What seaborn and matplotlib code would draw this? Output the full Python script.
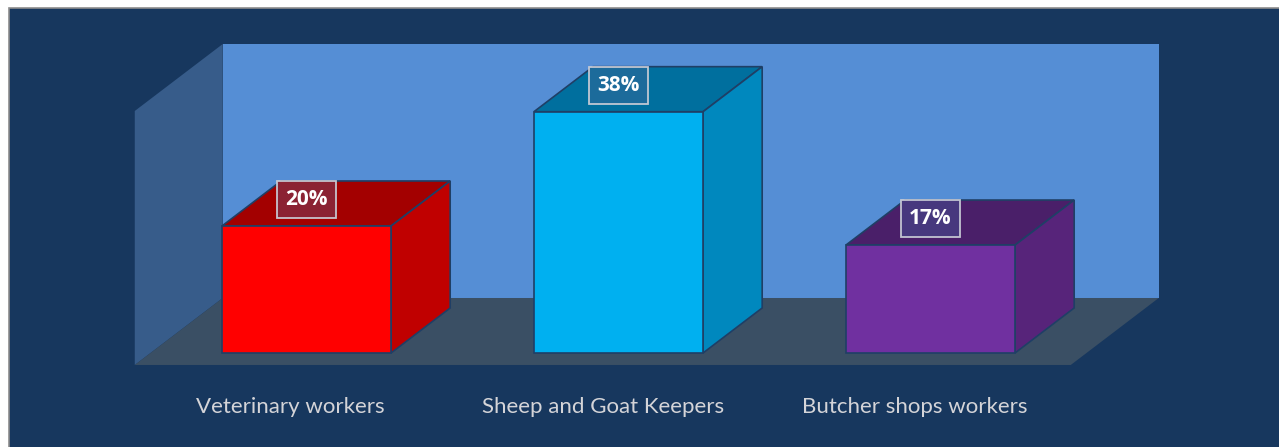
import matplotlib
matplotlib.use("Agg")
import matplotlib.pyplot as plt
from matplotlib.patches import Polygon, Rectangle
import seaborn as sns

# ---- data ----
categories = ["Veterinary workers", "Sheep and Goat Keepers", "Butcher shops workers"]
values = [20, 38, 17]
value_labels = ["20%", "38%", "17%"]

# ---- styles ----
front_colors = ["#FF0000", "#00B0F0", "#7030A0"]
top_colors = ["#A30000", "#006F9E", "#4A1F69"]
side_colors = ["#C00000", "#0088BE", "#57247A"]
box_colors = ["#8A2536", "#1E6B9B", "#473A80"]
edge_color = "#1F3F66"
bg_color = "#17375E"
back_wall = "#558ED5"
left_wall = "#375C8A"
floor_color = "#3A4F64"

# 3D projection constants (data units)
DX, DY = 0.282, 10.55         # full floor depth offset
D0, D1 = 0.179, 0.851         # bar depth range as fraction of floor depth
YMAX = 40
BAR_W = 0.542

sns.set_theme(style="white")

fig = plt.figure(figsize=(12.79, 4.47), dpi=100, facecolor="white")
fig.patches.append(Rectangle((9 / 1279, -0.05), 1.1, 1.05 - 8 / 447, transform=fig.transFigure,
                             facecolor=bg_color, edgecolor="#8C8C8C", linewidth=1.2, zorder=-10))
ax = fig.add_axes([0, 82 / 447, 1, 365 / 447])
ax.set_zorder(5)
ax.set_facecolor("none")

sns.barplot(x=categories, y=values, hue=categories, palette=front_colors, legend=False,
            width=BAR_W, edgecolor=edge_color, linewidth=1.2, saturation=1, ax=ax, zorder=4)

# walls and floor
fx0 = -0.5 - D0 * DX
fx1 = len(categories) - 0.5 - D0 * DX
fy = -D0 * DY
ax.add_patch(Polygon([(fx0 + DX, fy + DY), (fx1 + DX, fy + DY), (fx1 + DX, fy + DY + YMAX),
                      (fx0 + DX, fy + DY + YMAX)], closed=True, facecolor=back_wall, edgecolor="none", zorder=1))
ax.add_patch(Polygon([(fx0, fy), (fx0 + DX, fy + DY), (fx0 + DX, fy + DY + YMAX), (fx0, fy + YMAX)],
                     closed=True, facecolor=left_wall, edgecolor="none", zorder=1))
ax.add_patch(Polygon([(fx0, fy), (fx1, fy), (fx1 + DX, fy + DY), (fx0 + DX, fy + DY)],
                     closed=True, facecolor=floor_color, edgecolor="none", zorder=1.5))

ddx = (D1 - D0) * DX
ddy = (D1 - D0) * DY
for i, p in enumerate(ax.patches[:len(values)]):
    x0, w, h = p.get_x(), p.get_width(), p.get_height()
    ax.add_patch(Polygon([(x0, h), (x0 + w, h), (x0 + w + ddx, h + ddy), (x0 + ddx, h + ddy)], closed=True,
                         facecolor=top_colors[i], edgecolor=edge_color, linewidth=1.2, zorder=3))
    ax.add_patch(Polygon([(x0 + w, 0), (x0 + w + ddx, ddy), (x0 + w + ddx, h + ddy), (x0 + w, h)], closed=True,
                         facecolor=side_colors[i], edgecolor=edge_color, linewidth=1.2, zorder=3))
    ax.text(x0 + w / 2, h + 4.17, value_labels[i], ha="center", va="center", color="white",
            fontsize=15, fontweight="bold", family=["Open Sans", "DejaVu Sans"], zorder=6,
            bbox=dict(boxstyle="square,pad=0.38", facecolor=box_colors[i], edgecolor="#C9CCD6",
                      linewidth=1.3, alpha=0.95))

ax.set_xlim(-0.9824, 3.117)
ax.set_ylim(-1.89, 55.59)
ax.set_xticks([i - D0 * DX for i in range(len(categories))])
ax.set_xticklabels(categories, color="#D4D4D8", fontsize=16, family=["Lato", "DejaVu Sans"])
ax.tick_params(axis="x", length=0, pad=23)
ax.set_yticks([])
ax.set_xlabel("")
ax.set_ylabel("")
for s in ax.spines.values():
    s.set_visible(False)

fig.savefig("out.png", dpi=100, facecolor=fig.get_facecolor())
